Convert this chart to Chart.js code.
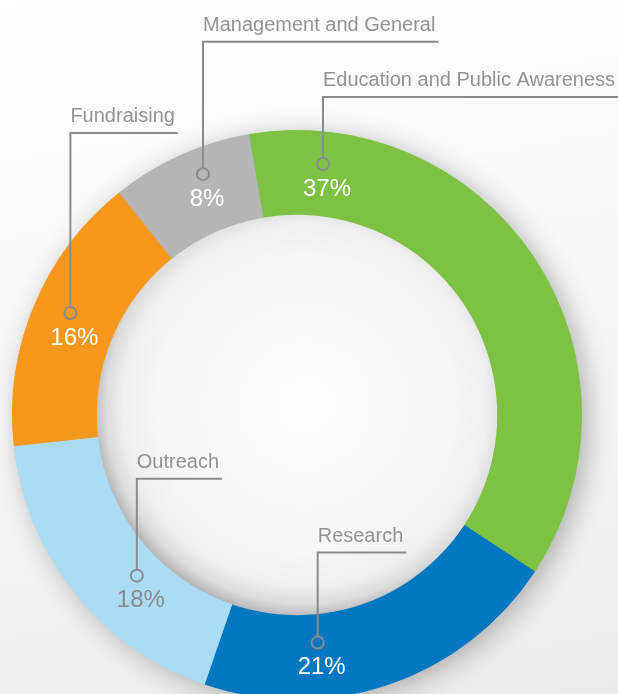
<!DOCTYPE html>
<html>
<head>
<meta charset="utf-8">
<script src="https://cdn.jsdelivr.net/npm/chart.js@4.4.0/dist/chart.umd.min.js"></script>
<style>
    html, body { margin: 0; padding: 0; }
    body {
        width: 618px;
        height: 694px;
        overflow: hidden;
        background: linear-gradient(170deg, #ffffff 0%, #f8f8f8 45%, #ebebeb 100%);
    }
    #wrap { position: relative; width: 618px; height: 720px; }
</style>
</head>
<body>
<div id="wrap"><canvas id="grafico"></canvas></div>
<script>
// Dados do gráfico
const categorias = ['Education and Public Awareness', 'Research', 'Outreach', 'Fundraising', 'Management and General'];
const percentuais = [37, 21, 18, 16, 8];
const cores = ['#7dc242', '#0077c0', '#aadcf5', '#f7981d', '#b5b5b6'];

// Posição dos rótulos: fração ao longo do arco, fração radial (interno -> externo), altura da linha em px
const ancoraArco = [0.118, 0.68, 0.40, 0.528, 0.60];
const ancoraRaio = [0.62, 0.34, 0.32, 0.575, 0.694];
const alturaLinha = [67, 90, 97, 180, 132.5];
const corPercentual = ['#ffffff', '#ffffff', '#8a8a8c', '#ffffff', '#ffffff'];

const COR_LINHA = '#8b8b8d';
const FONTE = '"Liberation Sans", Arial, Helvetica, sans-serif';

// Sombra externa do anel
const sombraAnel = {
    id: 'sombraAnel',
    beforeDatasetsDraw(chart) {
        const arc = chart.getDatasetMeta(0).data[0];
        if (!arc) return;
        const { x, y, outerRadius } = arc.getProps(['x', 'y', 'outerRadius'], true);
        const ctx = chart.ctx;
        ctx.save();
        ctx.shadowColor = 'rgba(0,0,0,0.30)';
        ctx.shadowBlur = 28;
        ctx.shadowOffsetX = 6;
        ctx.shadowOffsetY = 4;
        ctx.fillStyle = '#9fb0a0';
        ctx.beginPath();
        ctx.arc(x, y, outerRadius - 1, 0, Math.PI * 2);
        ctx.fill();
        ctx.restore();
    }
};

// Disco central com sombreado e rótulos com linhas de chamada
const rotulos = {
    id: 'rotulos',
    afterDatasetsDraw(chart) {
        const ctx = chart.ctx;
        const meta = chart.getDatasetMeta(0);
        const primeiro = meta.data[0];
        const { x: cx, y: cy, innerRadius } = primeiro.getProps(['x', 'y', 'innerRadius'], true);

        // disco interno
        ctx.save();
        ctx.beginPath();
        ctx.arc(cx, cy, innerRadius + 0.5, 0, Math.PI * 2);
        ctx.clip();
        const g = ctx.createRadialGradient(cx + 8, cy - 10, 0, cx + 8, cy - 10, innerRadius + 12);
        g.addColorStop(0, '#fdfdfd');
        g.addColorStop(0.7, '#f7f7f7');
        g.addColorStop(0.86, '#efefef');
        g.addColorStop(0.94, '#dcdcdc');
        g.addColorStop(1, '#b8b8b8');
        ctx.fillStyle = g;
        ctx.fillRect(cx - innerRadius - 2, cy - innerRadius - 2, innerRadius * 2 + 4, innerRadius * 2 + 4);
        ctx.restore();

        meta.data.forEach((arc, i) => {
            const p = arc.getProps(['startAngle', 'endAngle', 'innerRadius', 'outerRadius'], true);
            const ang = p.startAngle + (p.endAngle - p.startAngle) * ancoraArco[i];
            const r = p.innerRadius + (p.outerRadius - p.innerRadius) * ancoraRaio[i];
            const px = cx + r * Math.cos(ang);
            const py = cy + r * Math.sin(ang);
            const ly = py - alturaLinha[i];

            ctx.save();
            ctx.font = '20px ' + FONTE;
            const largura = ctx.measureText(categorias[i]).width;
            const fimLinha = Math.min(px + largura + 3, chart.width);

            ctx.strokeStyle = COR_LINHA;
            ctx.lineWidth = 2;
            ctx.beginPath();
            ctx.moveTo(px, py - 6);
            ctx.lineTo(px, ly);
            ctx.lineTo(fimLinha, ly);
            ctx.stroke();

            ctx.beginPath();
            ctx.arc(px, py, 6, 0, Math.PI * 2);
            ctx.stroke();

            ctx.fillStyle = '#939395';
            ctx.textAlign = 'left';
            ctx.textBaseline = 'alphabetic';
            ctx.fillText(categorias[i], px, ly - 11);

            ctx.font = '24px ' + FONTE;
            ctx.fillStyle = corPercentual[i];
            ctx.textAlign = 'center';
            ctx.textBaseline = 'middle';
            ctx.fillText(percentuais[i] + '%', px + 4, py + 25);
            ctx.restore();
        });
    }
};

new Chart(document.getElementById('grafico'), {
    type: 'doughnut',
    data: {
        labels: categorias,
        datasets: [{
            data: percentuais,
            backgroundColor: cores,
            borderColor: cores,
            borderWidth: 1
        }]
    },
    options: {
        responsive: true,
        maintainAspectRatio: false,
        animation: false,
        rotation: -9.8,
        cutout: '70.2%',
        layout: { padding: { left: 12, right: 36, top: 130, bottom: 20 } },
        plugins: {
            legend: { display: false },
            tooltip: { enabled: false }
        }
    },
    plugins: [sombraAnel, rotulos]
});
</script>
</body>
</html>
